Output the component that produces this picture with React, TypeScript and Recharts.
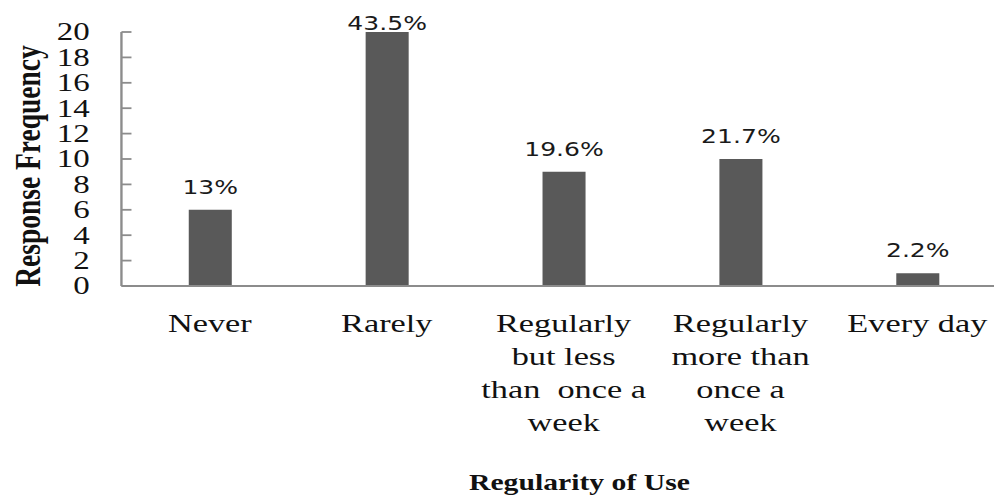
import React from 'react';
import { BarChart, Bar, XAxis, YAxis, LabelList } from 'recharts';

const categories = [
  'Never',
  'Rarely',
  'Regularly\nbut less\nthan  once a\nweek',
  'Regularly\nmore than\nonce a\nweek',
  'Every day',
];
const responseCounts = [6, 20, 9, 10, 1];
const percentLabels = ['13%', '43.5%', '19.6%', '21.7%', '2.2%'];
const yTicks = [0, 2, 4, 6, 8, 10, 12, 14, 16, 18, 20];

const data = categories.map((c, i) => ({
  category: c,
  count: responseCounts[i],
  pct: percentLabels[i],
}));

// the source picture is stretched sideways, so the whole chart is drawn narrow and scaled
const STRETCH = 1.32;
const CHART_W = 762;
const CHART_H = 499;
const AXIS_W = 92;
const SERIF = '"Liberation Serif", "Times New Roman", serif';
const AXIS_COLOR = '#8c8c8c';
const TICK_MARGIN = 24;

function YTick(props: any) {
  const { x, y, payload } = props;
  const axisX = x + TICK_MARGIN;
  return (
    <g>
      <line x1={axisX} x2={axisX + 7.6} y1={y} y2={y} stroke={AXIS_COLOR} strokeWidth={1.8} />
      <text x={x} y={y} dy="0.34em" textAnchor="end" fontFamily={SERIF} fontSize={25} fill="#111">
        {payload.value}
      </text>
    </g>
  );
}

function XTick(props: any) {
  const { x, y, payload } = props;
  const lines = String(payload.value).split('\n');
  return (
    <text
      x={x}
      y={y}
      textAnchor="middle"
      fontFamily={SERIF}
      fontSize={26}
      fill="#111"
      style={{ whiteSpace: 'pre' }}
    >
      {lines.map((l, i) => (
        <tspan key={i} x={x} dy={i === 0 ? 46 : 33}>
          {l}
        </tspan>
      ))}
    </text>
  );
}

function PctLabel(props: any) {
  const { x, y, width, value } = props;
  // keep the label of the tallest bar inside the picture
  const baseline = Math.max(Number(y) - 16, 30);
  return (
    <text
      x={Number(x) + Number(width) / 2}
      y={baseline}
      textAnchor="middle"
      fontFamily='"DejaVu Sans", sans-serif'
      fontSize={19}
      fill="#1a1a1a"
    >
      {value}
    </text>
  );
}

function XTitle(props: any) {
  const vb = props.viewBox || { x: AXIS_W, y: 286, width: CHART_W - AXIS_W, height: 213 };
  return (
    <text
      x={vb.x + vb.width / 2 + 12}
      y={vb.y + 204}
      textAnchor="middle"
      fontFamily={SERIF}
      fontWeight="bold"
      fontSize={22.5}
      fill="#111"
    >
      Regularity of Use
    </text>
  );
}

function YTitle(props: any) {
  const vb = props.viewBox || { x: 0, y: 32, width: AXIS_W, height: 254 };
  const cx = 21;
  const cy = vb.y + vb.height / 2 + 7;
  return (
    <text
      x={cx}
      y={cy}
      transform={`rotate(-90, ${cx}, ${cy})`}
      textAnchor="middle"
      dominantBaseline="central"
      fontFamily={SERIF}
      fontWeight="bold"
      fontSize={27.5}
      fill="#111"
    >
      Response Frequency
    </text>
  );
}

export default function App() {
  return (
    <div
      style={{
        position: 'absolute',
        left: 0,
        top: 0,
        width: 994,
        height: 499,
        overflow: 'hidden',
        background: '#fff',
      }}
    >
      <div
        style={{
          width: CHART_W,
          height: CHART_H,
          transform: `scaleX(${STRETCH})`,
          transformOrigin: '0 0',
        }}
      >
        <BarChart
          width={CHART_W}
          height={CHART_H}
          data={data}
          margin={{ top: 32, right: 0, bottom: 0, left: 0 }}
        >
          <XAxis
            dataKey="category"
            interval={0}
            height={213}
            tickSize={0}
            tickMargin={0}
            tickLine={false}
            axisLine={{ stroke: AXIS_COLOR, strokeWidth: 1.8 }}
            tick={<XTick />}
            label={{ content: (p: any) => <XTitle {...p} /> }}
          />
          <YAxis
            domain={[0, 20]}
            ticks={yTicks}
            interval={0}
            width={AXIS_W}
            tickSize={0}
            tickMargin={TICK_MARGIN}
            tickLine={false}
            axisLine={{ stroke: AXIS_COLOR, strokeWidth: 1.8 }}
            tick={<YTick />}
            label={{ content: (p: any) => <YTitle {...p} /> }}
          />
          <Bar dataKey="count" fill="#595959" barSize={32.6} isAnimationActive={false}>
            <LabelList dataKey="pct" content={(p: any) => <PctLabel {...p} />} />
          </Bar>
        </BarChart>
      </div>
    </div>
  );
}
